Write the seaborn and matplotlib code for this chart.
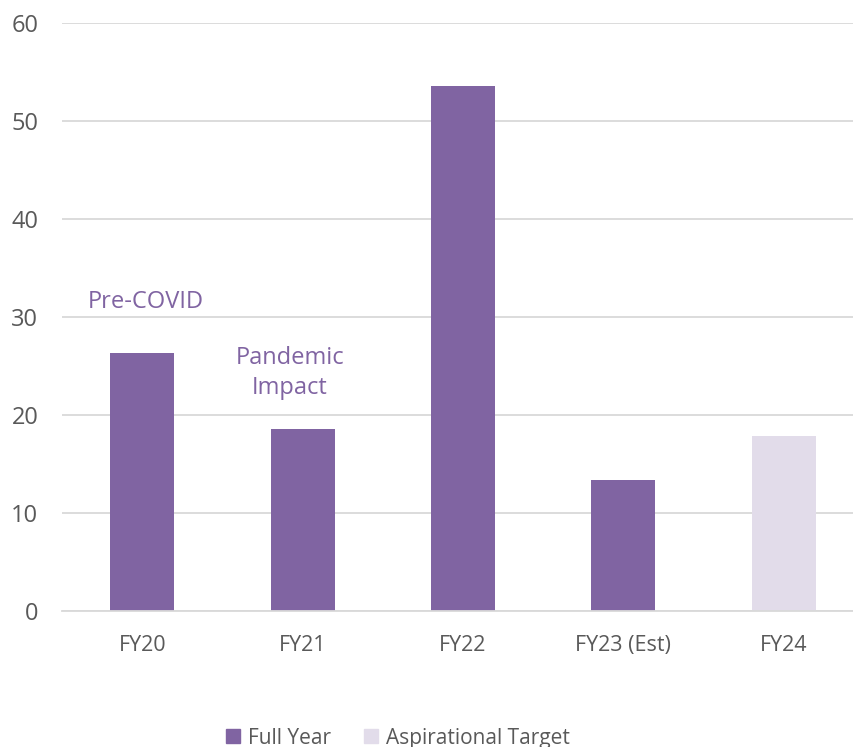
import seaborn as sns
import matplotlib.pyplot as plt
import pandas as pd

# datos del gráfico
periodos = ["FY20", "FY21", "FY22", "FY23 (Est)", "FY24"]
valores = [26.3, 18.6, 53.6, 13.4, 17.9]
series = ["Full Year", "Full Year", "Full Year", "Full Year", "Aspirational Target"]
yticks = [0, 10, 20, 30, 40, 50, 60]

colores = {"Full Year": "#8064A2", "Aspirational Target": "#E2DCEA"}
gris = "#595959"

sns.set_style("white")
plt.rcParams["font.family"] = ["Open Sans", "DejaVu Sans"]

df = pd.DataFrame({"periodo": periodos, "valor": valores, "serie": series})

fig = plt.figure(figsize=(8.54, 7.47), dpi=100)
ax = fig.add_axes([62 / 854, 1 - 611 / 747, 802 / 854, 588 / 747])

sns.barplot(data=df, x="periodo", y="valor", hue="serie", palette=colores,
            dodge=False, width=0.4, ax=ax, legend=False, saturation=1, linewidth=0)

ax.set_ylim(0, 60)
ax.set_yticks(yticks)
ax.yaxis.grid(True, color="#D9D9D9", linewidth=1.3)
ax.set_axisbelow(True)
for s in ["top", "right", "left"]:
    ax.spines[s].set_visible(False)
ax.spines["bottom"].set_color("#D9D9D9")
ax.spines["bottom"].set_linewidth(1.3)
ax.set_xlabel("")
ax.set_ylabel("")
ax.tick_params(axis="y", labelsize=17, colors=gris, length=0, pad=17)
ax.tick_params(axis="x", labelsize=15.5, colors=gris, length=0, pad=17)

ax.text(0.02, 31.5, "Pre-COVID", color="#8064A2", fontsize=17, ha="center", va="center")
ax.text(0.92, 24.3, "Pandemic\nImpact", color="#8064A2", fontsize=17, ha="center",
        va="center", linespacing=1.35)

handles = [plt.Rectangle((0, 0), 1, 1, color=colores[k]) for k in colores]
fig.legend(handles, list(colores.keys()), loc="center", bbox_to_anchor=(0.466, 0.012),
           ncol=2, frameon=False, fontsize=15, labelcolor=gris, handlelength=0.65,
           handleheight=0.65, handletextpad=0.4, columnspacing=1.6)

fig.savefig("out.png", dpi=100)
